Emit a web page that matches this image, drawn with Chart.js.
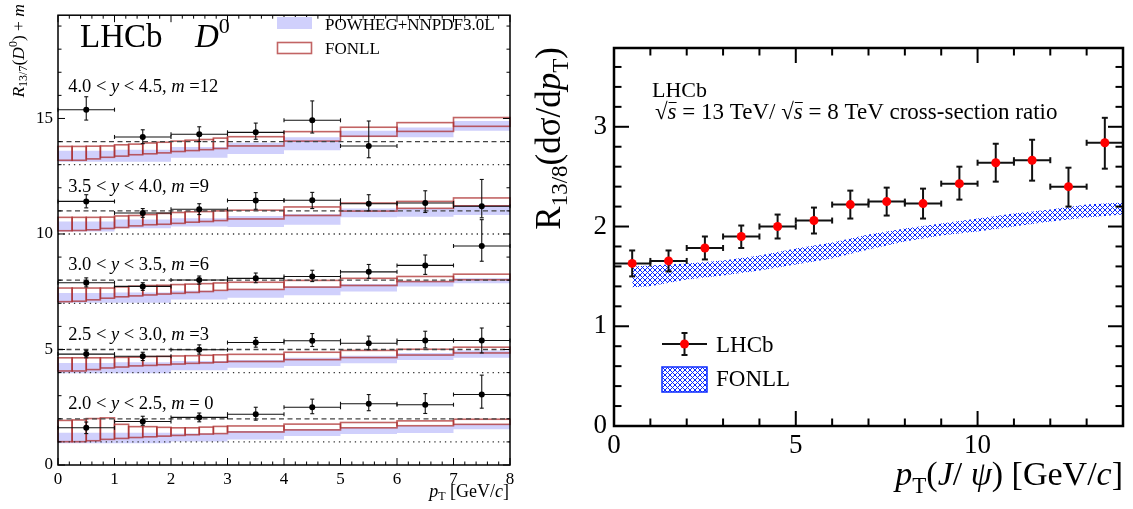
<!DOCTYPE html>
<html>
<head>
<meta charset="utf-8">
<script src="https://cdn.jsdelivr.net/npm/chart.js@4.4.1/dist/chart.umd.min.js"></script>
<style>
  body { margin: 0; background: #fff; }
  canvas { position: absolute; top: 0; }
  #left { left: 0; }
  #right { left: 530px; }
</style>
</head>
<body>
<canvas id="left" width="520" height="509"></canvas>
<canvas id="right" width="603" height="509"></canvas>
<script>
// ---- D0: R(13/7) per rapidity bin, plotted as R + m ----
var rapidityBins = [['4.0', '4.5'], ['3.5', '4.0'], ['3.0', '3.5'], ['2.5', '3.0'], ['2.0', '2.5']];
var shifts = [12, 9, 6, 3, 0];
var ptCentres = [0.5, 1.5, 2.5, 3.5, 4.5, 5.5, 6.5, 7.5];

var ratioD0 = [
  [3.38, 2.20, 2.32, 2.40, 2.92, 1.81],
  [2.41, 1.91, 2.07, 2.45, 2.46, 2.31, 2.34, 2.20],
  [1.89, 1.73, 2.01, 2.08, 2.16, 2.36, 2.64, 3.48],
  [1.80, 1.71, 1.99, 2.30, 2.38, 2.27, 2.39, 2.39],
  [1.61, 1.88, 2.06, 2.20, 2.50, 2.65, 2.61, 3.05]
];
var ratioD0Up = [
  [0.56, 0.31, 0.32, 0.40, 0.84, 1.08],
  [0.29, 0.19, 0.24, 0.34, 0.34, 0.39, 0.53, 1.16],
  [0.21, 0.16, 0.17, 0.23, 0.27, 0.32, 0.45, 1.14],
  [0.16, 0.17, 0.21, 0.22, 0.31, 0.31, 0.40, 0.54],
  [0.25, 0.23, 0.19, 0.30, 0.35, 0.40, 0.48, 0.84]
];
var ratioD0Down = [
  [0.45, 0.29, 0.32, 0.30, 0.55, 0.51],
  [0.28, 0.19, 0.23, 0.38, 0.36, 0.31, 0.41, 0.50],
  [0.18, 0.17, 0.18, 0.19, 0.22, 0.28, 0.39, 0.66],
  [0.16, 0.19, 0.19, 0.20, 0.25, 0.28, 0.32, 0.54],
  [0.25, 0.16, 0.19, 0.26, 0.28, 0.30, 0.38, 0.59]
];

var powhegEdges = [0, 1, 2, 3, 4, 5, 6, 7, 8];
var powhegLow = [
  [1.13, 1.13, 1.30, 1.46, 1.62, 2.21, 2.19, 2.47],
  [1.11, 1.25, 1.32, 1.30, 1.40, 1.72, 1.75, 1.82],
  [1.02, 1.02, 1.16, 1.24, 1.35, 1.51, 1.73, 1.87],
  [0.97, 0.97, 1.10, 1.21, 1.29, 1.40, 1.54, 1.64],
  [0.94, 0.94, 1.02, 1.10, 1.26, 1.34, 1.38, 1.55]
];
var powhegHigh = [
  [1.60, 1.65, 1.77, 1.95, 2.19, 2.47, 2.61, 2.89],
  [1.54, 1.63, 1.68, 1.78, 1.86, 2.10, 2.10, 2.24],
  [1.45, 1.47, 1.54, 1.60, 1.73, 1.83, 1.96, 2.08],
  [1.42, 1.45, 1.50, 1.54, 1.64, 1.73, 1.85, 1.96],
  [1.40, 1.40, 1.36, 1.47, 1.55, 1.61, 1.69, 1.76]
];

var fonllEdges = [0, 0.25, 0.5, 0.75, 1, 1.25, 1.5, 1.75, 2, 2.25, 2.5, 2.75, 3, 4, 5, 6, 7, 8];
var fonllLow = [
  [1.19, 1.19, 1.25, 1.32, 1.37, 1.43, 1.47, 1.51, 1.57, 1.61, 1.65, 1.70, 1.81, 2.02, 2.23, 2.44, 2.66],
  [1.14, 1.15, 1.18, 1.24, 1.28, 1.35, 1.40, 1.42, 1.46, 1.51, 1.54, 1.58, 1.65, 1.80, 1.99, 2.11, 2.22],
  [1.07, 1.09, 1.15, 1.22, 1.28, 1.32, 1.36, 1.40, 1.43, 1.47, 1.51, 1.56, 1.60, 1.70, 1.77, 1.94, 2.02],
  [1.07, 1.07, 1.13, 1.20, 1.24, 1.29, 1.31, 1.34, 1.37, 1.40, 1.42, 1.45, 1.48, 1.56, 1.65, 1.76, 1.85],
  [1.01, 1.01, 1.05, 1.11, 1.15, 1.19, 1.22, 1.25, 1.28, 1.31, 1.34, 1.36, 1.43, 1.52, 1.61, 1.70, 1.76]
];
var fonllHigh = [
  [1.79, 1.79, 1.80, 1.81, 1.86, 1.89, 1.94, 1.97, 2.02, 2.06, 2.09, 2.15, 2.21, 2.43, 2.62, 2.82, 3.04],
  [1.72, 1.72, 1.72, 1.73, 1.78, 1.80, 1.84, 1.89, 1.93, 1.96, 1.97, 2.00, 2.03, 2.17, 2.34, 2.41, 2.56],
  [1.66, 1.66, 1.66, 1.66, 1.71, 1.74, 1.77, 1.78, 1.81, 1.83, 1.85, 1.88, 1.91, 1.99, 2.08, 2.16, 2.26],
  [1.64, 1.64, 1.64, 1.64, 1.66, 1.67, 1.69, 1.70, 1.72, 1.73, 1.75, 1.77, 1.79, 1.88, 1.96, 2.01, 2.10],
  [1.93, 1.95, 2.01, 2.04, 1.76, 1.66, 1.66, 1.63, 1.61, 1.61, 1.64, 1.67, 1.69, 1.77, 1.84, 1.91, 1.98]
];

// ---- J/psi: R(13/8) vs pT ----
var jpsiPt = [0.5, 1.5, 2.5, 3.5, 4.5, 5.5, 6.5, 7.5, 8.5, 9.5, 10.5, 11.5, 12.5, 13.5];
var jpsiRatio = [1.63, 1.655, 1.785, 1.90, 2.00, 2.06, 2.22, 2.25, 2.23, 2.43, 2.64, 2.665, 2.40, 2.84];
var jpsiUp = [0.13, 0.105, 0.115, 0.11, 0.12, 0.13, 0.14, 0.14, 0.15, 0.17, 0.19, 0.205, 0.19, 0.25];
var jpsiDown = [0.13, 0.105, 0.115, 0.115, 0.12, 0.13, 0.14, 0.14, 0.15, 0.16, 0.19, 0.205, 0.20, 0.26];

var fonllJpsiPt = [0.5, 1, 2, 3, 4, 5, 6, 7, 8, 9, 10, 11, 12, 13, 14];
var fonllJpsiLow = [1.39, 1.40, 1.47, 1.51, 1.56, 1.62, 1.68, 1.77, 1.85, 1.91, 1.95, 2.00, 2.05, 2.09, 2.12];
var fonllJpsiHigh = [1.60, 1.61, 1.63, 1.66, 1.71, 1.78, 1.84, 1.92, 1.98, 2.03, 2.08, 2.13, 2.17, 2.22, 2.24];

// rapidity label heights (axis units)
var labelY = [16.15, 11.8, 8.43, 5.39, 2.44];

var BLUE = 'rgb(208,208,252)';
var RED = 'rgba(170,40,40,0.72)';
var HATCH = 'rgb(10,40,255)';

function F(style, size) {
  return style + ' ' + size + 'px "Liberation Serif", "DejaVu Serif", serif';
}

function drawRich(ctx, parts, x, y, align) {
  var w = 0;
  parts.forEach(function (p) { ctx.font = p.f; w += ctx.measureText(p.t).width; });
  var cx = align === 'right' ? x - w : x;
  parts.forEach(function (p) {
    ctx.font = p.f;
    var pw = ctx.measureText(p.t).width;
    ctx.fillText(p.t, cx, y + (p.dy || 0));
    if (p.bar) ctx.fillRect(cx + 1, y - p.bar, pw - 1, 1);
    cx += pw;
  });
}

function line(ctx, x0, y0, x1, y1) {
  ctx.beginPath(); ctx.moveTo(x0, y0); ctx.lineTo(x1, y1); ctx.stroke();
}

// frame with inward ticks on all four sides
function drawFrame(chart, o) {
  var ctx = chart.ctx, a = chart.chartArea, xs = chart.scales.x, ys = chart.scales.y;
  ctx.save();
  ctx.strokeStyle = '#000';
  ctx.lineWidth = o.tickWidth;
  var n = Math.round((xs.max - xs.min) / o.xMinor), i, v, p, L;
  for (i = 0; i <= n; i++) {
    v = xs.min + i * o.xMinor;
    p = xs.getPixelForValue(v);
    L = Math.abs(v / o.xMajor - Math.round(v / o.xMajor)) < 1e-6 ? o.major : o.minor;
    line(ctx, p, a.bottom, p, a.bottom - L);
    line(ctx, p, a.top, p, a.top + L);
  }
  n = Math.floor((ys.max - ys.min) / o.yMinor + 1e-6);
  for (i = 0; i <= n; i++) {
    v = ys.min + i * o.yMinor;
    p = ys.getPixelForValue(v);
    L = Math.abs(v / o.yMajor - Math.round(v / o.yMajor)) < 1e-6 ? o.major : o.minor;
    line(ctx, a.left, p, a.left + L, p);
    line(ctx, a.right, p, a.right - L, p);
  }
  ctx.lineWidth = o.frameWidth;
  ctx.strokeRect(a.left, a.top, a.right - a.left, a.bottom - a.top);
  ctx.restore();
}

function drawErrors(chart, xs, ys, centres, vals, up, down, half, o) {
  var ctx = chart.ctx;
  ctx.save();
  ctx.strokeStyle = o.color;
  ctx.lineWidth = o.width;
  for (var i = 0; i < vals.length; i++) {
    var x = xs.getPixelForValue(centres[i]);
    var y = ys.getPixelForValue(vals[i]);
    var xl = xs.getPixelForValue(centres[i] - half), xr = xs.getPixelForValue(centres[i] + half);
    var yt = ys.getPixelForValue(vals[i] + up[i]), yb = ys.getPixelForValue(vals[i] - down[i]);
    line(ctx, xl, y, xr, y);
    line(ctx, x, yt, x, yb);
    line(ctx, x - o.cap, yt, x + o.cap, yt);
    line(ctx, x - o.cap, yb, x + o.cap, yb);
    line(ctx, xl, y - o.cap, xl, y + o.cap);
    line(ctx, xr, y - o.cap, xr, y + o.cap);
  }
  ctx.restore();
}

function stepData(edges, vals, m) {
  return edges.map(function (x, i) {
    return { x: x, y: m + vals[Math.min(i, vals.length - 1)] };
  });
}

Chart.defaults.font.family = '"Liberation Serif", serif';
Chart.defaults.color = '#000';

// ---------------- left panel ----------------
var leftSets = [];
shifts.forEach(function (m, g) {
  leftSets.push({
    type: 'scatter',
    data: ratioD0[g].map(function (v, i) { return { x: ptCentres[i], y: v + m }; }),
    pointRadius: 3, pointBackgroundColor: '#000', pointBorderWidth: 0,
    order: 0, errGroup: g
  });
});
shifts.forEach(function (m) {
  leftSets.push({
    type: 'line', data: [{ x: 0, y: m + 2 }, { x: 8, y: m + 2 }],
    borderColor: '#444', borderWidth: 1.3, borderDash: [5, 3.5], pointRadius: 0, order: 5
  });
  leftSets.push({
    type: 'line', data: [{ x: 0, y: m + 1 }, { x: 8, y: m + 1 }],
    borderColor: '#333', borderWidth: 1.3, borderDash: [1.3, 4], pointRadius: 0, order: 5
  });
});
shifts.forEach(function (m, g) {
  leftSets.push({
    type: 'line', data: stepData(powhegEdges, powhegLow[g], m), stepped: true,
    borderColor: 'transparent', borderWidth: 0, pointRadius: 0, fill: false, order: 10
  });
  leftSets.push({
    type: 'line', data: stepData(powhegEdges, powhegHigh[g], m), stepped: true,
    borderColor: 'transparent', borderWidth: 0, pointRadius: 0,
    fill: '-1', backgroundColor: BLUE, order: 10, fonllGroup: g
  });
});

var leftPlugin = {
  id: 'd0Panel',
  afterDatasetDraw: function (chart, args) {
    var ds = chart.data.datasets[args.index];
    if (ds.fonllGroup === undefined) return;
    var g = ds.fonllGroup, m = shifts[g], ctx = chart.ctx;
    var xs = chart.scales.x, ys = chart.scales.y;
    ctx.save();
    ctx.strokeStyle = RED;
    ctx.lineWidth = 1.6;
    for (var i = 0; i < fonllLow[g].length; i++) {
      var x0 = xs.getPixelForValue(fonllEdges[i]), x1 = xs.getPixelForValue(fonllEdges[i + 1]);
      var y0 = ys.getPixelForValue(m + fonllHigh[g][i]), y1 = ys.getPixelForValue(m + fonllLow[g][i]);
      ctx.strokeRect(x0, y0, x1 - x0, y1 - y0);
    }
    ctx.restore();
  },
  beforeDatasetDraw: function (chart, args) {
    var ds = chart.data.datasets[args.index];
    if (ds.errGroup === undefined) return;
    var g = ds.errGroup, m = shifts[g];
    drawErrors(chart, chart.scales.x, chart.scales.y, ptCentres,
      ratioD0[g].map(function (v) { return v + m; }), ratioD0Up[g], ratioD0Down[g], 0.5,
      { color: '#111', width: 1.1, cap: 2 });
  },
  afterDraw: function (chart) {
    var ctx = chart.ctx, xs = chart.scales.x, ys = chart.scales.y;
    drawFrame(chart, { xMinor: 0.2, xMajor: 1, yMinor: 1, yMajor: 5, minor: 3.5, major: 7, tickWidth: 1, frameWidth: 1.5 });
    ctx.save();
    ctx.fillStyle = '#000';
    ctx.textBaseline = 'alphabetic';
    ctx.font = F('normal', 33);
    ctx.fillText('LHCb', 80, 47);
    drawRich(ctx, [{ t: 'D', f: F('italic', 33) }, { t: '0', f: F('normal', 22), dy: -14 }], 195, 47);

    rapidityBins.forEach(function (b, g) {
      var n = F('normal', 18.5), it = F('italic', 18.5);
      drawRich(ctx, [
        { t: b[0] + ' < ', f: n }, { t: 'y', f: it }, { t: ' < ' + b[1] + ', ', f: n },
        { t: 'm', f: it }, { t: shifts[g] === 0 ? ' = 0' : ' =' + shifts[g], f: n }
      ], xs.getPixelForValue(0.18), ys.getPixelForValue(labelY[g]));
    });

    // legend
    ctx.fillStyle = BLUE;
    ctx.fillRect(277, 17, 35, 12);
    ctx.strokeStyle = RED;
    ctx.lineWidth = 1.6;
    ctx.strokeRect(277.5, 42.5, 34, 11);
    ctx.fillStyle = '#000';
    ctx.font = F('normal', 17);
    ctx.fillText('POWHEG+NNPDF3.0L', 325, 30);
    ctx.fillText('FONLL', 325, 54);

    // axis titles
    drawRich(ctx, [
      { t: 'p', f: F('italic', 18) }, { t: 'T', f: F('normal', 12), dy: 3 },
      { t: ' [GeV/', f: F('normal', 18) }, { t: 'c', f: F('italic', 18) }, { t: ']', f: F('normal', 18) }
    ], 509, 497, 'right');
    ctx.translate(24, 4);
    ctx.rotate(-Math.PI / 2);
    drawRich(ctx, [
      { t: 'R', f: F('italic', 17.5) }, { t: '13/7', f: F('normal', 12), dy: 3 },
      { t: '(', f: F('normal', 17.5) }, { t: 'D', f: F('italic', 17.5) }, { t: '0', f: F('normal', 12), dy: -7 },
      { t: ') + ', f: F('normal', 17.5) }, { t: 'm', f: F('italic', 17.5) }
    ], 0, 0, 'right');
    ctx.restore();
  }
};

new Chart(document.getElementById('left').getContext('2d'), {
  type: 'scatter',
  data: { datasets: leftSets },
  options: {
    responsive: false, animation: false, events: [],
    layout: { padding: { top: 3, right: 10, left: 0, bottom: 0 } },
    plugins: { legend: { display: false }, tooltip: { enabled: false } },
    scales: {
      x: {
        type: 'linear', min: 0, max: 8,
        grid: { display: false, drawTicks: false }, border: { display: false },
        ticks: { stepSize: 1, autoSkip: false, maxRotation: 0, padding: 4, font: { size: 17 } },
        afterFit: function (s) { s.height = 44; }
      },
      y: {
        type: 'linear', min: 0, max: 19.47,
        grid: { display: false, drawTicks: false }, border: { display: false },
        ticks: { stepSize: 5, includeBounds: false, padding: 5, font: { size: 17 } },
        afterFit: function (s) { s.width = 58; }
      }
    }
  },
  plugins: [leftPlugin]
});

// ---------------- right panel ----------------
var rightCtx = document.getElementById('right').getContext('2d');

function crossHatch(ctx) {
  var c = document.createElement('canvas');
  c.width = 5; c.height = 5;
  var g = c.getContext('2d');
  g.strokeStyle = HATCH;
  g.lineWidth = 1;
  g.beginPath();
  g.moveTo(-1, -1); g.lineTo(6, 6);
  g.moveTo(6, -1); g.lineTo(-1, 6);
  g.stroke();
  return ctx.createPattern(c, 'repeat');
}
var hatch = crossHatch(rightCtx);

var rightPlugin = {
  id: 'jpsiPanel',
  beforeDatasetDraw: function (chart, args) {
    if (!chart.data.datasets[args.index].errBars) return;
    drawErrors(chart, chart.scales.x, chart.scales.y, jpsiPt, jpsiRatio, jpsiUp, jpsiDown, 0.5,
      { color: '#111', width: 2, cap: 3 });
  },
  afterDraw: function (chart) {
    var ctx = chart.ctx;
    drawFrame(chart, { xMinor: 1, xMajor: 5, yMinor: 0.2, yMajor: 1, minor: 7.5, major: 15, tickWidth: 2, frameWidth: 2.5 });
    ctx.save();
    ctx.fillStyle = '#000';
    ctx.font = F('normal', 22);
    ctx.fillText('LHCb', 122, 96.7);
    var n = F('normal', 23), it = F('italic', 23);
    drawRich(ctx, [
      { t: '\u221A', f: n }, { t: 's', f: it, bar: 17 }, { t: ' = 13 TeV/ ', f: n },
      { t: '\u221A', f: n }, { t: 's', f: it, bar: 17 }, { t: ' = 8 TeV cross-section ratio', f: n }
    ], 125, 119);

    // legend
    ctx.strokeStyle = '#111';
    ctx.lineWidth = 2;
    line(ctx, 132, 344, 177, 344);
    line(ctx, 154.5, 333, 154.5, 355);
    line(ctx, 151.5, 333, 157.5, 333);
    line(ctx, 151.5, 355, 157.5, 355);
    ctx.fillStyle = 'rgb(255,0,0)';
    ctx.beginPath(); ctx.arc(154.5, 344, 4.5, 0, Math.PI * 2); ctx.fill();
    ctx.fillStyle = hatch;
    ctx.fillRect(132, 367, 45, 25);
    ctx.strokeStyle = HATCH;
    ctx.lineWidth = 1.5;
    ctx.strokeRect(132, 367, 45, 25);
    ctx.fillStyle = '#000';
    ctx.font = F('normal', 23);
    ctx.fillText('LHCb', 186, 352);
    ctx.fillText('FONLL', 186, 386);

    // axis titles
    var big = 34;
    drawRich(ctx, [
      { t: 'p', f: F('italic', big) }, { t: 'T', f: F('normal', 23), dy: 8 },
      { t: '(', f: F('normal', big) }, { t: 'J', f: F('italic', big) }, { t: '/ ', f: F('normal', big) },
      { t: '\u03C8', f: F('italic', big) }, { t: ') [GeV/', f: F('normal', big) },
      { t: 'c', f: F('italic', big) }, { t: ']', f: F('normal', big) }
    ], 593, 485, 'right');
    ctx.translate(30, 47);
    ctx.rotate(-Math.PI / 2);
    drawRich(ctx, [
      { t: 'R', f: F('normal', 35) }, { t: '13/8', f: F('normal', 23), dy: 7 },
      { t: '(d\u03C3/d', f: F('normal', 35) }, { t: 'p', f: F('italic', 35) },
      { t: 'T', f: F('normal', 23), dy: 8 }, { t: ')', f: F('normal', 35) }
    ], 0, 0, 'right');
    ctx.restore();
  }
};

new Chart(rightCtx, {
  type: 'scatter',
  data: {
    datasets: [
      {
        type: 'scatter', errBars: true,
        data: jpsiPt.map(function (x, i) { return { x: x, y: jpsiRatio[i] }; }),
        pointRadius: 4.5, pointBackgroundColor: 'rgb(255,0,0)', pointBorderWidth: 0, order: 0
      },
      {
        type: 'line', data: fonllJpsiPt.map(function (x, i) { return { x: x, y: fonllJpsiLow[i] }; }),
        borderColor: 'transparent', borderWidth: 0, pointRadius: 0, fill: false, order: 10
      },
      {
        type: 'line', data: fonllJpsiPt.map(function (x, i) { return { x: x, y: fonllJpsiHigh[i] }; }),
        borderColor: 'transparent', borderWidth: 0, pointRadius: 0, fill: '-1',
        backgroundColor: hatch, order: 10
      }
    ]
  },
  options: {
    responsive: false, animation: false, events: [],
    layout: { padding: { top: 48, right: 10, left: 0, bottom: 0 } },
    plugins: { legend: { display: false }, tooltip: { enabled: false } },
    scales: {
      x: {
        type: 'linear', min: 0, max: 14,
        grid: { display: false, drawTicks: false }, border: { display: false },
        ticks: { stepSize: 5, includeBounds: false, autoSkip: false, maxRotation: 0, padding: 4, font: { size: 27 } },
        afterFit: function (s) { s.height = 83; }
      },
      y: {
        type: 'linear', min: 0, max: 3.79,
        grid: { display: false, drawTicks: false }, border: { display: false },
        ticks: { stepSize: 1, includeBounds: false, padding: 7, font: { size: 27 } },
        afterFit: function (s) { s.width = 84; }
      }
    }
  },
  plugins: [rightPlugin]
});
</script>
</body>
</html>
